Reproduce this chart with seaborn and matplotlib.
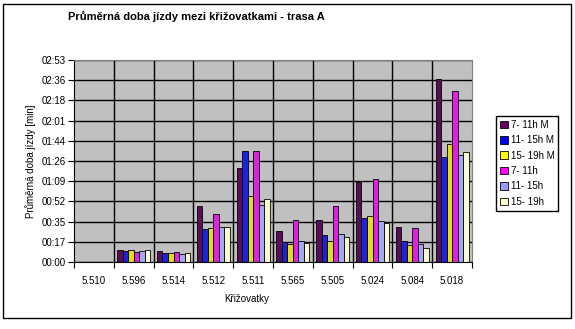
import pandas as pd
import matplotlib
matplotlib.use("Agg")
import matplotlib.pyplot as plt
from matplotlib.patches import Rectangle
from matplotlib.ticker import FixedLocator, FuncFormatter
import seaborn as sns

# travel times in seconds
krizovatky = ["5.510", "5.596", "5.514", "5.512", "5.511", "5.565", "5.505", "5.024", "5.084", "5.018"]
serie = ["7- 11h M", "11- 15h M", "15- 19h M", "7- 11h", "11- 15h", "15- 19h"]
t_7_11_M = [0, 10.5, 9.7, 48.2, 80.7, 26.8, 36.2, 68.7, 30.2, 156.8]
t_11_15_M = [0, 9.7, 8.0, 28.5, 95.2, 17.4, 23.4, 37.9, 18.2, 90.1]
t_15_19_M = [0, 10.5, 8.0, 29.4, 56.7, 15.7, 18.2, 39.6, 14.8, 101.2]
t_7_11 = [0, 8.8, 8.8, 41.3, 95.2, 36.2, 48.2, 71.3, 29.4, 146.6]
t_11_15 = [0, 9.7, 7.1, 30.2, 49.0, 18.2, 24.2, 35.3, 15.7, 91.8]
t_15_19 = [0, 10.5, 8.0, 30.2, 54.2, 16.5, 21.6, 33.6, 12.2, 94.4]
barvy = ["#660066", "#0000FF", "#FFFF00", "#FF00FF", "#9999FF", "#FFFFCC"]

vals = [t_7_11_M, t_11_15_M, t_15_19_M, t_7_11, t_11_15, t_15_19]
rows = []
for s, v in zip(serie, vals):
    for k, x in zip(krizovatky, v):
        rows.append({"krizovatka": k, "serie": s, "cas": x})
data = pd.DataFrame(rows)

plt.rcParams["font.family"] = ["Liberation Sans", "DejaVu Sans"]
plt.rcParams["font.size"] = 7

fig = plt.figure(figsize=(5.75, 3.29), dpi=100)
ax = fig.add_axes([74 / 575, 1 - 262 / 329, 398 / 575, 202 / 329])
ax.set_facecolor("#C0C0C0")

sns.barplot(data=data, x="krizovatka", y="cas", hue="serie", order=krizovatky,
            hue_order=serie, palette=barvy, width=0.83, gap=0,
            edgecolor="black", linewidth=0.6, ax=ax, legend=False)

step = 17.28
ax.set_ylim(0, 10 * step)
ax.set_xlim(-0.5, len(krizovatky) - 0.5)
ax.yaxis.set_major_locator(FixedLocator([i * step for i in range(11)]))
def mmss(v, pos):
    s = int(round(v))
    return "%02d:%02d" % (s // 60, s % 60)
ax.yaxis.set_major_formatter(FuncFormatter(mmss))
ax.grid(axis="y", color="black", linewidth=1)
for i in range(1, len(krizovatky)):
    ax.axvline(i - 0.5, color="black", linewidth=1, zorder=0.5)
ax.set_axisbelow(True)
ax.xaxis.set_minor_locator(FixedLocator([i - 0.5 for i in range(len(krizovatky) + 1)]))
ax.tick_params(axis="x", which="major", length=0, pad=10)
ax.tick_params(axis="x", which="minor", length=4, width=0.8)
ax.tick_params(axis="y", length=4, width=0.8, pad=2)
for sp in ["top", "right"]:
    ax.spines[sp].set_color("#808080")
    ax.spines[sp].set_linewidth(0.8)
ax.spines["left"].set_linewidth(0.8)
ax.spines["bottom"].set_linewidth(0.8)

ax.set_xlabel("Křižovatky", fontsize=7)
ax.xaxis.set_label_coords((247 - 74) / 398, -0.16)
ax.set_ylabel("Průměrná doba jízdy [min]", fontsize=7, labelpad=4)

fig.text(68 / 575, 1 - 17 / 329, "Průměrná doba jízdy mezi křižovatkami - trasa A",
         fontsize=8, fontweight="bold", va="center", ha="left")

handles = [Rectangle((0, 0), 1, 1, facecolor=c, edgecolor="black", linewidth=0.6) for c in barvy]
fig.legend(handles, serie, loc="upper left", bbox_to_anchor=(496 / 575, 1 - 116 / 329),
           fontsize=7, frameon=True, fancybox=False, edgecolor="black", framealpha=1,
           handlelength=0.8, handleheight=0.8, handletextpad=0.3, labelspacing=0.55,
           borderpad=0.4, borderaxespad=0)

fig.patches.append(Rectangle((3 / 575, 1 - 318 / 329), 568 / 575, 314 / 329, fill=False,
                             edgecolor="black", linewidth=1, transform=fig.transFigure))

fig.savefig("out.png", dpi=100)
